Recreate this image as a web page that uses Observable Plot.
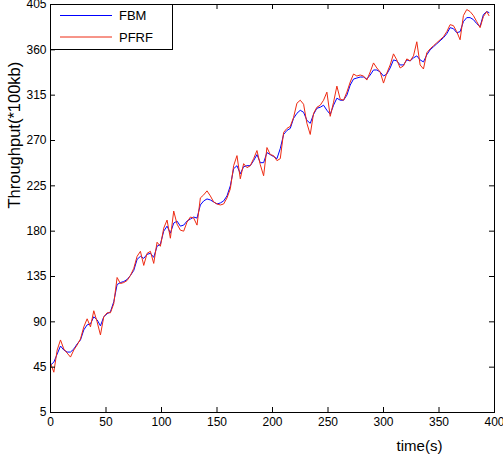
<!DOCTYPE html>
<html><head><meta charset="utf-8">
<script src="https://cdn.jsdelivr.net/npm/d3@7"></script>
<script src="https://cdn.jsdelivr.net/npm/@observablehq/plot@0.6"></script>
<style>
body{margin:0;background:#fff;}
#wrap{position:relative;width:503px;height:461px;font-family:"Liberation Sans",Arial,sans-serif;}
#legend{position:absolute;left:50px;top:4px;}
</style></head><body><div id="wrap"></div>
<script>
const time = [0,3,6,9,12,15,18,21,24,27,30,33,36,39,42,45,48,51,54,57,60,63,66,69,72,75,78,81,84,87,90,93,96,99,102,105,108,111,114,117,120,123,126,129,132,135,138,141,144,147,150,153,156,159,162,165,168,171,174,177,180,183,186,189,192,195,198,201,204,207,210,213,216,219,222,225,228,231,234,237,240,243,246,249,252,255,258,261,264,267,270,273,276,279,282,285,288,291,294,297,300,303,306,309,312,315,318,321,324,327,330,333,336,339,342,345,348,351,354,357,360,363,366,369,372,375,378,381,384,387,390,393,395];
const fbm = [47,50,58,66,62,60,60,63,68,72,82,87,88,95,92,86,95,98,100,110,127,129,130,132,136,141,152,155,153,157,158,154,165,167,180,185,178,188,190,185,186,190,192,194,193,206,210,212,211,209,207,208,210,215,225,242,245,237,244,245,245,250,256,248,248,258,256,254,252,262,276,280,282,292,297,300,298,290,287,296,302,303,305,300,296,305,312,310,310,315,325,331,332,333,333,331,335,340,340,338,334,336,342,350,349,345,345,350,349,352,354,350,348,355,360,363,366,369,372,376,382,381,377,378,388,392,392,390,386,383,395,398,397];
const pfrf = [49,40,62,72,63,59,55,62,67,73,85,93,85,101,90,77,95,99,99,108,134,128,129,131,136,143,155,160,146,158,160,148,169,165,183,191,173,200,187,181,180,189,194,193,186,213,216,220,215,209,207,206,207,213,222,245,255,232,247,243,245,252,260,246,235,263,256,255,250,252,278,282,284,293,307,310,306,287,276,297,303,305,310,318,294,308,324,311,310,318,328,336,334,335,334,330,338,347,342,338,327,337,345,356,350,342,344,351,349,354,368,345,341,357,361,364,367,370,373,378,385,384,378,370,394,400,398,394,388,382,393,398,394];
const seriesNames = ["FBM","PFRF"];
const seriesColors = ["#0000ff","#ee2a12"];
const xTicks = [0,50,100,150,200,250,300,350,400];
const yTicks = [0,45,90,135,180,225,270,315,360,405];
const yTickLabels = ["5","45","90","135","180","225","270","315","360","405"];
const xDomain = [0,400];
const yDomain = [0,405];
const xLabel = "time(s)";
const yLabel = "Throughput(*100kb)";

const W = 503, H = 461, mL = 50, mR = 9, mT = 4, mB = 49;
const tkY = 5 * (yDomain[1]-yDomain[0]) / (H - mT - mB);
const tkX = 5 * (xDomain[1]-xDomain[0]) / (W - mL - mR);

const fbmData = time.map((t,i)=>({t, v: fbm[i]}));
const pfrfData = time.map((t,i)=>({t, v: pfrf[i]}));

const chart = Plot.plot({
  width: W, height: H,
  marginLeft: mL, marginRight: mR, marginTop: mT, marginBottom: mB,
  style: {fontFamily: '"Liberation Sans", Arial, sans-serif', background: "#fff", overflow: "visible"},
  x: {domain: xDomain},
  y: {domain: yDomain},
  marks: [
    Plot.line(fbmData, {x: "t", y: "v", stroke: seriesColors[0], strokeWidth: 1}),
    Plot.line(pfrfData, {x: "t", y: "v", stroke: seriesColors[1], strokeWidth: 1}),
    Plot.ruleX(xTicks, {x: d => d, y1: yDomain[0], y2: yDomain[0] + tkY, stroke: "#000"}),
    Plot.ruleX(xTicks, {x: d => d, y1: yDomain[1] - tkY, y2: yDomain[1], stroke: "#000"}),
    Plot.ruleY(yTicks, {y: d => d, x1: xDomain[0], x2: xDomain[0] + tkX, stroke: "#000"}),
    Plot.ruleY(yTicks, {y: d => d, x1: xDomain[1] - tkX, x2: xDomain[1], stroke: "#000"}),
    Plot.frame({stroke: "#000", strokeWidth: 1}),
    Plot.axisX(xTicks, {tickSize: 0, tickPadding: 5, fontSize: 12, label: null, tickFormat: d => String(d), fill: "#000"}),
    Plot.axisY(yTicks, {tickSize: 0, tickPadding: 4, fontSize: 12, label: null, tickFormat: d => yTickLabels[yTicks.indexOf(d)], fill: "#000"}),
    Plot.text([xLabel], {frameAnchor: "bottom", dx: 147, dy: 34, text: d => d, fontSize: 15, lineAnchor: "middle", fill: "#000"}),
    Plot.text([yLabel], {frameAnchor: "left", dx: -35.5, text: d => d, fontSize: 16.5, rotate: -90, lineAnchor: "middle", fill: "#000"})
  ]
});
const wrap = document.getElementById("wrap");
wrap.appendChild(chart);

// legend overlay
const ns = "http://www.w3.org/2000/svg";
const lg = document.createElementNS(ns, "svg");
lg.setAttribute("id", "legend");
lg.setAttribute("width", 124); lg.setAttribute("height", 47);
const rect = document.createElementNS(ns, "rect");
rect.setAttribute("x", 0.5); rect.setAttribute("y", 0.5);
rect.setAttribute("width", 122); rect.setAttribute("height", 45);
rect.setAttribute("fill", "#fff"); rect.setAttribute("stroke", "#000");
lg.appendChild(rect);
const rowsY = [11.5, 33];
seriesNames.forEach((name, i) => {
  const ln = document.createElementNS(ns, "line");
  ln.setAttribute("x1", 10); ln.setAttribute("x2", 62);
  ln.setAttribute("y1", rowsY[i]); ln.setAttribute("y2", rowsY[i]);
  ln.setAttribute("stroke", seriesColors[i]); ln.setAttribute("stroke-width", 1);
  lg.appendChild(ln);
  const tx = document.createElementNS(ns, "text");
  tx.setAttribute("x", 69); tx.setAttribute("y", rowsY[i]);
  tx.setAttribute("dy", "0.35em");
  tx.setAttribute("font-size", 13);
  tx.setAttribute("font-family", '"Liberation Sans", Arial, sans-serif');
  tx.textContent = name;
  lg.appendChild(tx);
});
wrap.appendChild(lg);
</script>
</body></html>
